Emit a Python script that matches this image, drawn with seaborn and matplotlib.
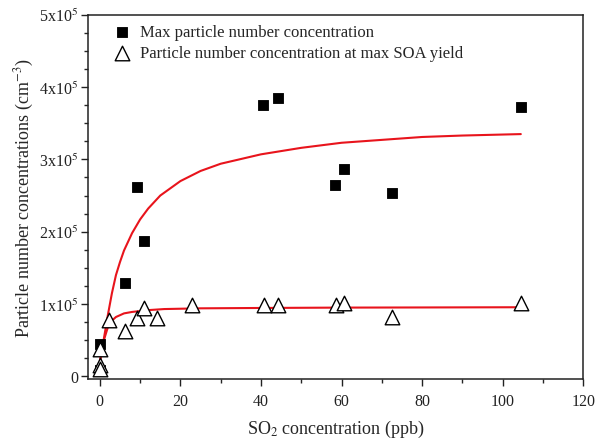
import numpy as np
import pandas as pd
import matplotlib
matplotlib.use("Agg")
import matplotlib.pyplot as plt
import seaborn as sns
from matplotlib.ticker import MultipleLocator

# measured points
max_x = [0, 0, 6.2, 9.1, 10.9, 40.5, 44.2, 58.3, 60.6, 72.6, 104.5]
max_y = [0.45e5, 0.08e5, 1.29e5, 2.62e5, 1.875e5, 3.755e5, 3.85e5, 2.65e5, 2.87e5, 2.53e5, 3.72e5]

soa_x = [0, 0, 0, 2.2, 6.2, 9.3, 10.9, 14.2, 22.9, 40.7, 44.2, 58.6, 60.7, 72.6, 104.5]
soa_y = [0.38e5, 0.16e5, 0.10e5, 0.78e5, 0.625e5, 0.81e5, 0.94e5, 0.81e5, 0.98e5,
         0.98e5, 0.98e5, 0.98e5, 1.02e5, 0.825e5, 1.02e5]

# fitted curves
fit_max_x = [0, 0.5, 1, 2, 3, 4, 5, 6, 8, 10, 12, 15, 20, 25, 30, 40, 50, 60, 70, 80, 90, 104.5]
fit_max_y = [0.18e5, 0.36e5, 0.52e5, 0.85e5, 1.15e5, 1.40e5, 1.58e5, 1.74e5, 1.98e5, 2.17e5,
             2.32e5, 2.50e5, 2.70e5, 2.84e5, 2.94e5, 3.07e5, 3.16e5, 3.23e5, 3.27e5, 3.31e5,
             3.33e5, 3.35e5]

fit_soa_x = [0, 0.5, 1, 2, 3, 4, 6, 8, 12, 16, 25, 40, 60, 80, 104.5]
fit_soa_y = [0.2e5, 0.38e5, 0.5e5, 0.68e5, 0.77e5, 0.82e5, 0.87e5, 0.89e5, 0.915e5, 0.93e5,
             0.94e5, 0.945e5, 0.95e5, 0.952e5, 0.955e5]

yticks = [0, 1e5, 2e5, 3e5, 4e5, 5e5]
ytick_labels = ["0", "1x10$^5$", "2x10$^5$", "3x10$^5$", "4x10$^5$", "5x10$^5$"]

sns.set_theme(style="ticks")
plt.rcParams["font.family"] = ["Liberation Serif", "DejaVu Serif"]
plt.rcParams["mathtext.fontset"] = "stix"

fig = plt.figure(figsize=(5.97, 4.39), dpi=100)
ax = fig.add_axes([0.147, 0.134, 0.83, 0.83])

sns.lineplot(x=fit_max_x, y=fit_max_y, color="#e8141c", lw=1.5, ax=ax, zorder=1)
sns.lineplot(x=fit_soa_x, y=fit_soa_y, color="#e8141c", lw=1.5, ax=ax, zorder=1)

sns.scatterplot(x=max_x, y=max_y, marker="s", s=60, color="black", edgecolor="black",
                label="Max particle number concentration", ax=ax, zorder=3)
sns.scatterplot(x=soa_x, y=soa_y, marker="^", s=110, facecolor="white", edgecolor="black",
                linewidth=1.0, label="Particle number concentration at max SOA yield",
                ax=ax, zorder=4)

ax.set_xlim(-3, 120)
ax.set_ylim(-4000, 5e5)
ax.set_xticks([0, 20, 40, 60, 80, 100, 120])
ax.xaxis.set_minor_locator(MultipleLocator(10))
ax.set_yticks(yticks)
ax.set_yticklabels(ytick_labels)
ax.yaxis.set_minor_locator(MultipleLocator(0.25e5))
ax.tick_params(which="major", direction="out", length=5, width=1, labelsize=11.5,
               colors="#222222", pad=2)
ax.tick_params(axis="x", which="major", pad=5)
ax.tick_params(which="minor", direction="out", length=3, width=1)
ax.tick_params(top=False, right=False, which="both")
for sp in ax.spines.values():
    sp.set_linewidth(1.1)
    sp.set_color("#222222")

ax.set_xlabel("SO$_2$ concentration (ppb)", fontsize=13, labelpad=6)
ax.set_ylabel("Particle number concentrations (cm$^{-3}$)", fontsize=13, labelpad=2)

leg = ax.legend(loc="upper left", bbox_to_anchor=(0.018, 1.015), frameon=False, fontsize=12,
                handletextpad=0.5, labelspacing=0.3, handlelength=1.2)

fig.savefig("out.png", dpi=100)
